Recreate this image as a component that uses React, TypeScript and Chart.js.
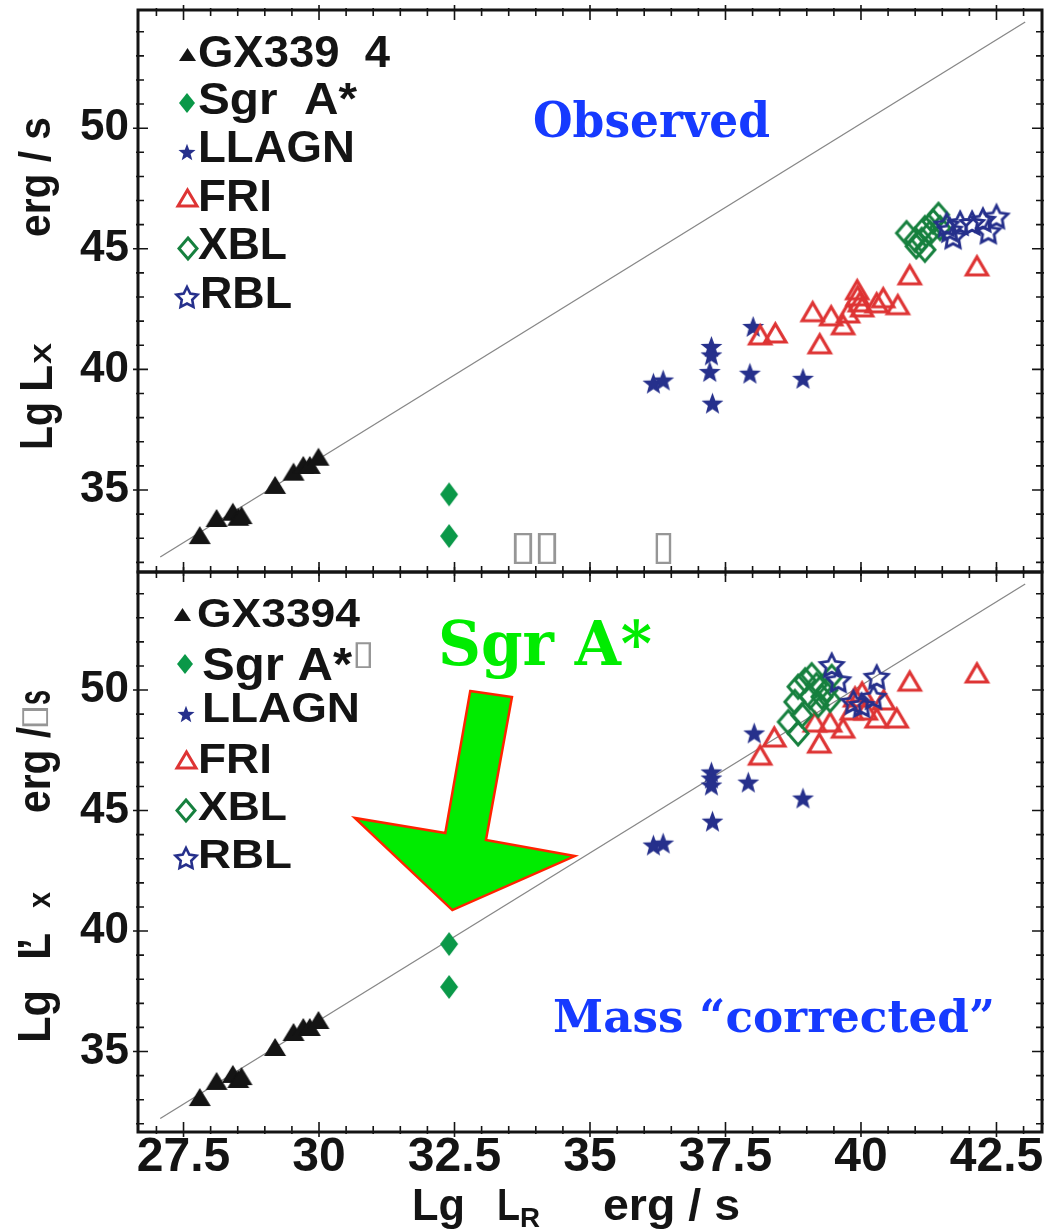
import React, { useEffect, useRef } from 'react';
import { Chart, registerables } from 'chart.js';

Chart.register(...registerables);

// ---------------- data ----------------
// Top panel: "Observed"
const gxTopX = [27.8, 28.11, 28.41, 28.51, 28.57, 29.19, 29.53, 29.71, 29.83, 29.99];
const gxTopY = [33.13, 33.84, 34.1, 33.89, 33.96, 35.21, 35.76, 36.04, 36.04, 36.38];
const sgrTopX = [32.4, 32.4];
const sgrTopY = [34.82, 33.09];
const llagnTopX = [36.17, 36.35, 37.24, 37.24, 37.21, 37.26, 37.95, 38.93, 38.01];
const llagnTopY = [39.43, 39.56, 40.95, 40.6, 39.91, 38.6, 39.84, 39.63, 41.78];
const friTopX = [38.14, 38.42, 39.11, 39.24, 39.45, 39.67, 39.76, 39.93, 39.94, 39.98, 40.02, 40.29, 40.41, 40.68, 40.9, 42.14];
const friTopY = [41.43, 41.51, 42.39, 41.06, 42.22, 41.85, 42.34, 43.3, 43.05, 42.8, 42.59, 42.76, 42.97, 42.68, 43.92, 44.29];
const xblTopX = [40.84, 41.02, 41.12, 41.18, 41.27, 41.33, 41.43, 41.46, 41.18, 41.0];
const xblTopY = [45.65, 45.1, 45.37, 45.86, 45.65, 46.13, 46.41, 45.86, 44.96, 45.37];
const rblTopX = [41.64, 41.7, 41.83, 42.05, 42.25, 42.35, 42.5, 41.58];
const rblTopY = [45.79, 45.51, 46.07, 46.07, 46.2, 45.72, 46.34, 46.0];

// Bottom panel: Mass "corrected"
const gxBotX = [27.8, 28.11, 28.41, 28.51, 28.57, 29.19, 29.53, 29.71, 29.83, 29.99];
const gxBotY = [33.11, 33.78, 34.07, 33.86, 33.98, 35.19, 35.81, 36.02, 36.02, 36.31];
const sgrBotX = [32.4, 32.4];
const sgrBotY = [39.46, 37.68];
const llagnBotX = [36.17, 36.35, 37.24, 37.24, 37.24, 37.26, 37.92, 38.93, 38.03];
const llagnBotY = [43.57, 43.65, 46.6, 46.35, 46.06, 44.56, 46.18, 45.52, 48.22];
const friBotX = [38.14, 38.4, 39.23, 39.15, 39.43, 39.67, 39.83, 39.89, 40.02, 40.09, 40.29, 40.42, 40.66, 40.9, 42.14];
const friBotY = [47.3, 48.05, 47.8, 48.67, 48.67, 48.42, 49.17, 49.71, 49.92, 49.17, 48.84, 49.59, 48.84, 50.37, 50.71];
const xblBotX = [38.78, 38.84, 38.97, 39.09, 39.18, 39.28, 39.37, 39.46, 38.91, 38.84, 38.66, 39.06, 39.21, 39.43];
const xblBotY = [49.51, 50.14, 50.41, 50.62, 50.21, 49.72, 50.0, 50.55, 48.96, 48.2, 48.68, 49.72, 49.38, 49.59];
const rblBotX = [39.46, 39.58, 40.29, 39.86, 40.01, 40.23];
const rblBotY = [51.04, 50.41, 50.55, 49.51, 49.38, 49.72];

// diagonal reference line
const lineX = [27.07, 43.03];
const lineY = [32.22, 54.4];

// arrow (bottom panel, data units)
const arrowX = [32.79, 33.56, 33.08, 34.72, 32.46, 30.66, 32.33];
const arrowY = [49.96, 49.71, 43.78, 43.11, 40.87, 44.69, 44.07];

// tick labels
const xTickLabels = [27.5, 30, 32.5, 35, 37.5, 40, 42.5];
const yTickLabels = [35, 40, 45, 50];

// legend names
const topNames = ['GX339  4', 'Sgr  A*', 'LLAGN', 'FRI', 'XBL', 'RBL'];
const botNames = ['GX3394', 'Sgr A*', 'LLAGN', 'FRI', 'XBL', 'RBL'];

// ---------------- styling ----------------
const SANS = '"Liberation Sans", Arial, Helvetica, sans-serif';
const SERIF = '"DejaVu Serif", "Liberation Serif", serif';
const INK = '#141414';
const BLUE = 'rgb(22,58,255)';
const LGREEN = 'rgb(0,236,0)';
const NAVY = 'rgb(38,48,140)';
const RED = 'rgb(222,52,52)';
const DGREEN = 'rgb(10,152,72)';
const XGREEN = 'rgb(22,128,62)';
const TOFU = 'rgb(150,150,150)';

const X_MIN = 26.66;
const X_MAX = 43.34;
const PAGE_W = 1044;
const PAGE_H = 1231;
const BOT_TOP = 560;

type Shape = 'tri' | 'dia' | 'star';

function makeMarker(shape: Shape, w: number, h: number, fill: string | null, stroke: string | null, lw = 0, inner = 0.45) {
  const pad = Math.ceil(lw * 1.5) + 2;
  const c = document.createElement('canvas');
  c.width = Math.round(w + pad * 2);
  c.height = Math.round(h + pad * 2);
  const ctx = c.getContext('2d')!;
  const cx = c.width / 2;
  const cy = c.height / 2;
  ctx.beginPath();
  if (shape === 'tri') {
    ctx.moveTo(cx, cy - h / 2);
    ctx.lineTo(cx + w / 2, cy + h / 2);
    ctx.lineTo(cx - w / 2, cy + h / 2);
    ctx.closePath();
  } else if (shape === 'dia') {
    ctx.moveTo(cx, cy - h / 2);
    ctx.lineTo(cx + w / 2, cy);
    ctx.lineTo(cx, cy + h / 2);
    ctx.lineTo(cx - w / 2, cy);
    ctx.closePath();
  } else {
    const R = w / 2;
    const r = R * inner;
    const oy = cy + R * 0.095;
    for (let i = 0; i < 10; i++) {
      const a = -Math.PI / 2 + (i * Math.PI) / 5;
      const rad = i % 2 ? r : R;
      const px = cx + rad * Math.cos(a);
      const py = oy + rad * Math.sin(a);
      if (i === 0) ctx.moveTo(px, py);
      else ctx.lineTo(px, py);
    }
    ctx.closePath();
  }
  if (fill) {
    ctx.fillStyle = fill;
    ctx.fill();
  }
  if (stroke) {
    ctx.lineWidth = lw;
    ctx.strokeStyle = stroke;
    ctx.lineJoin = 'miter';
    ctx.miterLimit = 3;
    ctx.stroke();
  }
  return c;
}

function fitText(ctx: CanvasRenderingContext2D, text: string, x: number, y: number, size: number, color: string, width?: number, family = SANS, weight = 'bold', rot = 0) {
  ctx.save();
  ctx.font = `${weight} ${size}px ${family}`;
  const m = ctx.measureText(text).width;
  ctx.translate(x, y);
  if (rot) ctx.rotate(rot);
  if (width) ctx.scale(width / m, 1);
  ctx.fillStyle = color;
  ctx.textAlign = 'left';
  ctx.textBaseline = 'alphabetic';
  ctx.fillText(text, 0, 0);
  ctx.restore();
}

function tofu(ctx: CanvasRenderingContext2D, cx: number, cy: number, w: number, h: number, rot = 0) {
  ctx.save();
  ctx.font = `40px "DejaVu Sans", sans-serif`;
  const m = ctx.measureText('\u25AF');
  const gw = (m.actualBoundingBoxLeft + m.actualBoundingBoxRight) || 20;
  const gh = (m.actualBoundingBoxAscent + m.actualBoundingBoxDescent) || 30;
  ctx.translate(cx, cy);
  if (rot) ctx.rotate(rot);
  ctx.scale(w / gw, h / gh);
  ctx.fillStyle = TOFU;
  ctx.textAlign = 'left';
  ctx.textBaseline = 'alphabetic';
  ctx.fillText('\u25AF', -gw / 2 + m.actualBoundingBoxLeft, gh / 2 - m.actualBoundingBoxDescent);
  ctx.restore();
}

function frameTicks(c: Chart) {
  const { ctx, chartArea: a } = c;
  const x = c.scales.x;
  const y = c.scales.y;
  ctx.save();
  ctx.strokeStyle = INK;
  ctx.lineWidth = 1.6;
  ctx.beginPath();
  const x0 = Math.ceil(x.min / 0.5);
  const x1 = Math.floor(x.max / 0.5);
  for (let i = x0; i <= x1; i++) {
    const v = i * 0.5;
    const px = x.getPixelForValue(v);
    const major = i % 5 === 0;
    const inn = major ? 10 : 6;
    const out = major ? 5 : 2;
    ctx.moveTo(px, a.bottom + out);
    ctx.lineTo(px, a.bottom - inn);
    ctx.moveTo(px, a.top - out);
    ctx.lineTo(px, a.top + inn);
  }
  const y0 = Math.ceil(y.min);
  const y1 = Math.floor(y.max);
  for (let v = y0; v <= y1; v++) {
    const py = y.getPixelForValue(v);
    const major = v % 5 === 0;
    const inn = major ? 10 : 6;
    const out = major ? 5 : 2;
    ctx.moveTo(a.left - out, py);
    ctx.lineTo(a.left + inn, py);
    ctx.moveTo(a.right + out, py);
    ctx.lineTo(a.right - inn, py);
  }
  ctx.stroke();
  ctx.lineWidth = 3;
  ctx.strokeRect(a.left, a.top, a.right - a.left, a.bottom - a.top);
  ctx.restore();
}

type LegendRow = { img: HTMLCanvasElement; mx: number; my: number; text: string; tx: number; ty: number; tw: number; size: number };

function drawLegend(ctx: CanvasRenderingContext2D, rows: LegendRow[]) {
  rows.forEach((r) => {
    ctx.drawImage(r.img, Math.round(r.mx - r.img.width / 2), Math.round(r.my - r.img.height / 2));
    fitText(ctx, r.text, r.tx, r.ty, r.size, INK, r.tw);
  });
}

const pts = (xs: number[], ys: number[]) => xs.map((x, i) => ({ x, y: ys[i] }));

type Panel = {
  series: [number[], number[]][];
  yMin: number;
  yMax: number;
  padTop: number;
  xAxisH: number;
  xLabels: boolean;
  decor: (c: Chart) => void;
};

function noPad(s: any) {
  s.paddingTop = 0;
  s.paddingBottom = 0;
  s.paddingLeft = 0;
  s.paddingRight = 0;
}

function buildChart(canvas: HTMLCanvasElement, p: Panel, imgs: HTMLCanvasElement[]) {
  const names = ['GX339-4', 'Sgr A*', 'LLAGN', 'FRI', 'XBL', 'RBL'];
  const datasets: any[] = [
    {
      label: 'relation',
      data: pts(lineX, lineY),
      showLine: true,
      borderColor: 'rgb(135,135,135)',
      borderWidth: 1.3,
      pointRadius: 0,
      order: 10,
    },
  ];
  p.series.forEach(([xs, ys], i) => {
    datasets.push({
      label: names[i],
      data: pts(xs, ys),
      pointStyle: imgs[i],
      pointRadius: 10,
      pointHoverRadius: 10,
      showLine: false,
      order: 9 - i,
    });
  });
  return new Chart(canvas, {
    type: 'scatter',
    data: { datasets },
    options: {
      animation: false,
      responsive: false,
      events: [],
      layout: { autoPadding: false, padding: { top: p.padTop, right: 2, left: 0, bottom: 0 } },
      plugins: { legend: { display: false }, tooltip: { enabled: false }, title: { display: false } },
      scales: {
        x: {
          type: 'linear',
          min: X_MIN,
          max: X_MAX,
          grid: { display: false, drawTicks: false },
          border: { display: false },
          ticks: {
            display: p.xLabels,
            stepSize: 2.5,
            includeBounds: false,
            autoSkip: false,
            maxRotation: 0,
            padding: 2,
            color: INK,
            font: { family: SANS, size: 48, weight: 'bold', lineHeight: 1 },
            callback: (v: any) => (xTickLabels.includes(Number(v)) ? String(v) : ''),
          },
          afterFit: (s: any) => {
            s.height = p.xAxisH;
            noPad(s);
          },
        },
        y: {
          type: 'linear',
          min: p.yMin,
          max: p.yMax,
          grid: { display: false, drawTicks: false },
          border: { display: false },
          ticks: {
            stepSize: 5,
            includeBounds: false,
            autoSkip: false,
            padding: 9,
            color: INK,
            font: { family: SANS, size: 44, weight: 'bold', lineHeight: 1 },
            callback: (v: any) => (yTickLabels.includes(Number(v)) ? String(v) : ''),
          },
          afterFit: (s: any) => {
            s.width = 138;
            noPad(s);
          },
        },
      },
    } as any,
    plugins: [{ id: 'decor', afterDraw: (c: Chart) => p.decor(c) }],
  });
}

export default function App() {
  const topRef = useRef<HTMLCanvasElement>(null);
  const botRef = useRef<HTMLCanvasElement>(null);

  useEffect(() => {
    // data markers
    const dataImgs = [
      makeMarker('tri', 22, 18, INK, null),
      makeMarker('dia', 18, 24, DGREEN, null),
      makeMarker('star', 23, 23, NAVY, null, 0, 0.42),
      makeMarker('tri', 21, 18, null, RED, 3.2),
      makeMarker('dia', 20, 23, null, XGREEN, 3),
      makeMarker('star', 24, 24, null, NAVY, 2.8, 0.5),
    ];
    // legend markers
    const lg = {
      gx: makeMarker('tri', 17, 13, INK, null),
      sgr: makeMarker('dia', 16, 20, DGREEN, null),
      llagn: makeMarker('star', 18, 18, NAVY, null, 0, 0.42),
      fri: makeMarker('tri', 19, 16, null, RED, 3),
      xbl: makeMarker('dia', 18, 21, null, XGREEN, 3),
      rbl: makeMarker('star', 22, 22, null, NAVY, 2.6, 0.5),
    };

    const topLegend: LegendRow[] = [
      { img: lg.gx, mx: 187, my: 54, text: topNames[0], tx: 198, ty: 66.7, tw: 192, size: 45 },
      { img: lg.sgr, mx: 187, my: 103, text: topNames[1], tx: 198, ty: 114, tw: 159, size: 45 },
      { img: lg.llagn, mx: 187, my: 152, text: topNames[2], tx: 198, ty: 161.7, tw: 157, size: 45 },
      { img: lg.fri, mx: 187, my: 198, text: topNames[3], tx: 198, ty: 210.7, tw: 74, size: 45 },
      { img: lg.xbl, mx: 188, my: 248, text: topNames[4], tx: 198, ty: 259, tw: 89, size: 45 },
      { img: lg.rbl, mx: 187, my: 297, text: topNames[5], tx: 200, ty: 308, tw: 92, size: 45 },
    ];
    const botLegend: LegendRow[] = [
      { img: lg.gx, mx: 182, my: 614, text: botNames[0], tx: 197, ty: 627, tw: 163, size: 40 },
      { img: lg.sgr, mx: 185, my: 664, text: botNames[1], tx: 202, ty: 680, tw: 150, size: 46 },
      { img: lg.llagn, mx: 186, my: 714, text: botNames[2], tx: 202, ty: 722, tw: 158, size: 42 },
      { img: lg.fri, mx: 186, my: 760, text: botNames[3], tx: 198, ty: 773, tw: 74, size: 42 },
      { img: lg.xbl, mx: 186, my: 810, text: botNames[4], tx: 198, ty: 820, tw: 89, size: 40 },
      { img: lg.rbl, mx: 186, my: 858, text: botNames[5], tx: 198, ty: 868, tw: 94, size: 40 },
    ];

    const UP = -Math.PI / 2;

    const decorTop = (c: Chart) => {
      const ctx = c.ctx;
      frameTicks(c);
      drawLegend(ctx, topLegend);
      fitText(ctx, 'Observed', 533, 136.7, 48, BLUE, 237, SERIF);
      tofu(ctx, 523, 548.5, 20, 31);
      tofu(ctx, 547, 548.5, 20, 31);
      tofu(ctx, 663.5, 548.5, 17, 31);
      // y-axis title: Lg  Lx   erg / s
      fitText(ctx, 'Lg', 52, 450, 47, INK, 48, SANS, 'bold', UP);
      fitText(ctx, 'L', 52, 392, 47, INK, 27, SANS, 'bold', UP);
      fitText(ctx, 'X', 51, 364, 24, INK, 21, SANS, 'bold', UP);
      fitText(ctx, 'erg / s', 50, 237, 45, INK, 120, SANS, 'bold', UP);
    };

    const decorBot = (c: Chart) => {
      const ctx = c.ctx;
      const xs = c.scales.x;
      const ys = c.scales.y;
      frameTicks(c);
      ctx.save();
      ctx.translate(0, -BOT_TOP);
      drawLegend(ctx, botLegend);
      tofu(ctx, 363.5, 655, 17, 26);
      fitText(ctx, 'Mass \u201Ccorrected\u201D', 553, 1032, 45, BLUE, 442, SERIF);
      fitText(ctx, 'Sgr A*', 438, 665, 62, LGREEN, 214, SERIF);
      // y-axis title: Lg L' x   erg / s
      fitText(ctx, 'Lg', 50, 1043, 46, INK, 53, SANS, 'bold', UP);
      fitText(ctx, 'L', 50, 960, 46, INK, 27, SANS, 'bold', UP);
      fitText(ctx, '\u2019', 50, 950, 46, INK, 12, SANS, 'bold', UP);
      fitText(ctx, 'x', 50, 908, 32, INK, 16, SANS, 'bold', UP);
      fitText(ctx, 'erg /', 50, 813, 46, INK, 86, SANS, 'bold', UP);
      tofu(ctx, 35, 717, 20, 26, UP);
      fitText(ctx, 's', 50, 705, 46, INK, 15, SANS, 'bold', UP);
      // x-axis title: Lg  LR   erg / s
      fitText(ctx, 'Lg', 412, 1220, 45, INK, 53);
      fitText(ctx, 'L', 497, 1220, 45, INK, 23);
      fitText(ctx, 'R', 520, 1227, 28, INK, 20);
      fitText(ctx, 'erg / s', 603, 1220, 45, INK, 137);
      ctx.restore();
      // arrow
      ctx.save();
      ctx.beginPath();
      arrowX.forEach((v, i) => {
        const px = xs.getPixelForValue(v);
        const py = ys.getPixelForValue(arrowY[i]);
        if (i === 0) ctx.moveTo(px, py);
        else ctx.lineTo(px, py);
      });
      ctx.closePath();
      ctx.fillStyle = LGREEN;
      ctx.fill();
      ctx.lineWidth = 2.5;
      ctx.lineJoin = 'miter';
      ctx.strokeStyle = 'rgb(255,35,0)';
      ctx.stroke();
      ctx.restore();
    };

    const top = buildChart(
      topRef.current!,
      {
        series: [
          [gxTopX, gxTopY],
          [sgrTopX, sgrTopY],
          [llagnTopX, llagnTopY],
          [friTopX, friTopY],
          [xblTopX, xblTopY],
          [rblTopX, rblTopY],
        ],
        yMin: 31.6,
        yMax: 54.9,
        padTop: 10,
        xAxisH: 4,
        xLabels: false,
        decor: decorTop,
      },
      dataImgs
    );
    const bot = buildChart(
      botRef.current!,
      {
        series: [
          [gxBotX, gxBotY],
          [sgrBotX, sgrBotY],
          [llagnBotX, llagnBotY],
          [friBotX, friBotY],
          [xblBotX, xblBotY],
          [rblBotX, rblBotY],
        ],
        yMin: 31.66,
        yMax: 54.9,
        padTop: 12,
        xAxisH: 99,
        xLabels: true,
        decor: decorBot,
      },
      dataImgs
    );
    return () => {
      top.destroy();
      bot.destroy();
    };
  }, []);

  return (
    <div style={{ position: 'absolute', left: 0, top: 0, width: PAGE_W, height: PAGE_H, background: '#fff', overflow: 'hidden' }}>
      <canvas ref={topRef} width={PAGE_W} height={576} style={{ position: 'absolute', left: 0, top: 0 }} />
      <canvas ref={botRef} width={PAGE_W} height={PAGE_H - BOT_TOP} style={{ position: 'absolute', left: 0, top: BOT_TOP }} />
    </div>
  );
}
